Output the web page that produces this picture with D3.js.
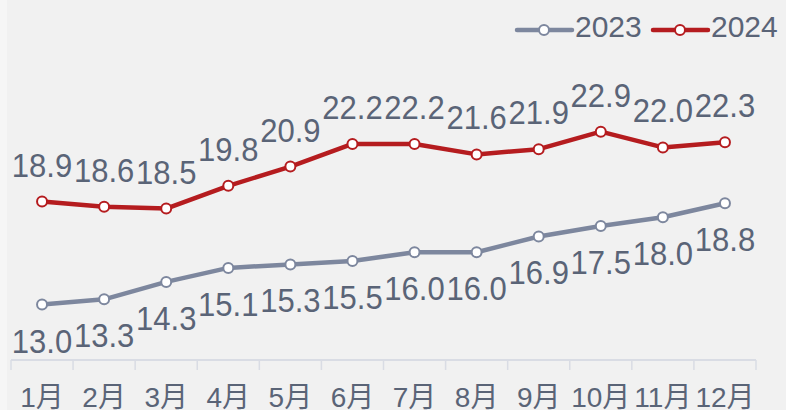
<!DOCTYPE html>
<html>
<head>
<meta charset="utf-8">
<script src="https://cdn.jsdelivr.net/npm/d3@7"></script>
<style>
  body { margin: 0; background: #f2f2f2; }
  svg { display: block; }
</style>
</head>
<body>
<div id="chart"></div>
<script>
// month labels along the x axis
var months = ["1月", "2月", "3月", "4月", "5月", "6月", "7月", "8月", "9月", "10月", "11月", "12月"];
var seriesNames = ["2023", "2024"];
var values2023 = [13.0, 13.3, 14.3, 15.1, 15.3, 15.5, 16.0, 16.0, 16.9, 17.5, 18.0, 18.8];
var values2024 = [18.9, 18.6, 18.5, 19.8, 20.9, 22.2, 22.2, 21.6, 21.9, 22.9, 22.0, 22.3];

var width = 786, height = 410;
var colors = {"2023": "#7d879e", "2024": "#b51c1f"};
var textColor = "#5a6477";
var fontFamily = "'Liberation Sans', Arial, 'Noto Sans CJK SC', sans-serif";

var svg = d3.select("#chart").append("svg")
    .attr("width", width)
    .attr("height", height);

// background, with the slightly lighter strip at the left edge
svg.append("rect").attr("width", width).attr("height", height).attr("fill", "#f1f1f1");
svg.append("rect").attr("width", 7).attr("height", height).attr("fill", "#f6f6f6");

// scales
var x = d3.scaleBand().domain(months).range([11, 756]);
var y = d3.scaleLinear().domain([10, 25]).range([357, 95]);

// x axis: baseline, ticks between bands, month labels
var axisY = 360;
var xAxis = svg.append("g")
    .attr("transform", "translate(0," + axisY + ")")
    .call(d3.axisBottom(x).tickSize(0).tickPadding(0));
xAxis.select(".domain").remove();
xAxis.selectAll("text").remove();

xAxis.append("line")
    .attr("x1", x.range()[0]).attr("x2", x.range()[1])
    .attr("stroke", "#d9dce4").attr("stroke-width", 2);

var bounds = months.map(function(m) { return x(m); }).concat([x.range()[1]]);
xAxis.selectAll(".tickmark")
    .data(bounds)
  .enter().append("line")
    .attr("class", "tickmark")
    .attr("x1", function(d) { return d; })
    .attr("x2", function(d) { return d; })
    .attr("y1", 0).attr("y2", 10)
    .attr("stroke", "#d9dce4").attr("stroke-width", 1.5);

xAxis.selectAll(".mlabel")
    .data(months)
  .enter().append("text")
    .attr("class", "mlabel")
    .attr("x", function(d) { return x(d) + x.bandwidth() / 2; })
    .attr("y", 47)
    .attr("text-anchor", "middle")
    .attr("font-family", fontFamily)
    .attr("font-size", 28)
    .attr("fill", textColor)
    .text(function(d) { return d; });

// lines + points + labels for each year
var series = [
  {name: seriesNames[0], values: values2023, labelDy: 48},
  {name: seriesNames[1], values: values2024, labelDy: -25}
];

var line = d3.line()
    .x(function(d, i) { return x(months[i]) + x.bandwidth() / 2; })
    .y(function(d) { return y(d); });

series.forEach(function(s) {
  var g = svg.append("g");

  g.append("path")
      .datum(s.values)
      .attr("fill", "none")
      .attr("stroke", colors[s.name])
      .attr("stroke-width", 4.5)
      .attr("stroke-linejoin", "round")
      .attr("d", line);

  g.selectAll("circle")
      .data(s.values)
    .enter().append("circle")
      .attr("cx", function(d, i) { return x(months[i]) + x.bandwidth() / 2; })
      .attr("cy", function(d) { return y(d); })
      .attr("r", 5)
      .attr("fill", "#fff")
      .attr("stroke", colors[s.name])
      .attr("stroke-width", 2);

  // value labels are drawn a bit narrow, like the original
  g.selectAll("text")
      .data(s.values)
    .enter().append("text")
      .attr("transform", function(d, i) {
        var cx = x(months[i]) + x.bandwidth() / 2;
        return "translate(" + cx + "," + (y(d) + s.labelDy) + ") scale(0.94,1)";
      })
      .attr("text-anchor", "middle")
      .attr("font-family", fontFamily)
      .attr("font-size", 33)
      .attr("fill", textColor)
      .text(function(d) { return d.toFixed(1); });
});

// legend, top right
var legendItems = [
  {name: seriesNames[0], x: 517},
  {name: seriesNames[1], x: 653}
];
var legend = svg.append("g").attr("transform", "translate(0,30)");
legendItems.forEach(function(l) {
  legend.append("line")
      .attr("x1", l.x).attr("x2", l.x + 55)
      .attr("stroke", colors[l.name]).attr("stroke-width", 4.5)
      .attr("stroke-linecap", "round");
  legend.append("circle")
      .attr("cx", l.x + 27).attr("r", 5)
      .attr("fill", "#fff")
      .attr("stroke", colors[l.name]).attr("stroke-width", 2);
  legend.append("text")
      .attr("x", l.x + 58).attr("y", 7)
      .attr("font-family", fontFamily)
      .attr("font-size", 30)
      .attr("fill", textColor)
      .text(l.name);
});
</script>
</body>
</html>
